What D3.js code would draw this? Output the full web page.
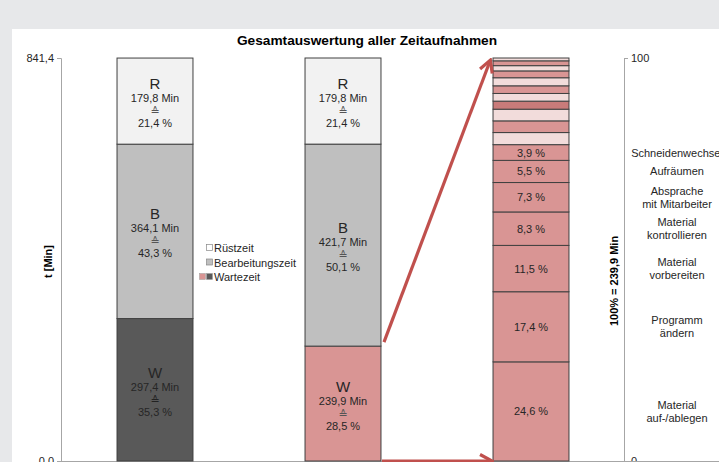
<!DOCTYPE html>
<html lang="de">
<head>
  <meta charset="UTF-8">
  <script src="https://d3js.org/d3.v7.min.js"></script>
  <title>Gesamtauswertung</title>
  <style>
    body { margin: 0; background: #e7e8ea; }
    svg { display: block; font-family: "Liberation Sans", Arial, sans-serif; }
  </style>
</head>
<body>
  <script>
    // ---- data ----
    const columns = ["ist", "soll", "warte"];
    const partKeys = ["W", "B", "R"];           // bottom -> top
    const istMin = [297.4, 364.1, 179.8];
    const istPct = [35.3, 43.3, 21.4];
    const sollMin = [239.9, 421.7, 179.8];
    const sollPct = [28.5, 50.1, 21.4];
    const totalMin = 841.4;

    const warteLabels = ["Material\nauf-/ablegen", "Programm\nändern", "Material\nvorbereiten",
      "Material\nkontrollieren", "Absprache\nmit Mitarbeiter", "Aufräumen", "Schneidenwechsel",
      "", "", "", "", "", "", "", "", "", "", ""];
    const wartePct = [24.6, 17.4, 11.5, 8.3, 7.3, 5.5, 3.9,
      3.0, 2.9, 2.9, 2.0, 1.9, 1.9, 2.0, 1.7, 1.3, 1.2, 0.7];
    const legendLabels = ["Rüstzeit", "Bearbeitungszeit", "Wartezeit"];

    // ---- styles ----
    const colR = "#f2f2f2", colB = "#bfbfbf", colWdark = "#595959", colWpink = "#d99594";
    const warteColors = [colWpink, colWpink, colWpink, colWpink, colWpink, colWpink, colWpink,
      "#f2dcdb", colWpink, "#f2dcdb", "#c97b7a", "#f2dcdb", colWpink, "#f2dcdb", colWpink,
      "#f2dcdb", colWpink, "#f2dcdb"];
    const txt = "#262626";
    const fmt = v => d3.format(".1f")(v).replace(".", ",");

    const W = 719, H = 462;
    const svg = d3.select("body").append("svg").attr("width", W).attr("height", H);
    svg.append("rect").attr("x", 12).attr("y", 29).attr("width", W - 12).attr("height", H - 29).attr("fill", "#fff");

    // ---- scales ----
    const x = d3.scaleBand().domain(columns).range([61, 625]).paddingInner(0.596).paddingOuter(0.298);
    const y = d3.scaleLinear().domain([0, totalMin]).range([461, 58]);
    const yP = d3.scaleLinear().domain([0, 100]).range([461, 58]);

    // title
    svg.append("text").attr("x", 367).attr("y", 45).attr("text-anchor", "middle")
      .attr("font-size", 13.7).attr("font-weight", "bold").attr("fill", "#000")
      .text("Gesamtauswertung aller Zeitaufnahmen");

    // axes
    const axL = svg.append("g").attr("transform", "translate(61,0)")
      .call(d3.axisLeft(y).tickValues([0, totalMin]).tickSize(4).tickFormat(fmt));
    const axR = svg.append("g").attr("transform", "translate(624,0)")
      .call(d3.axisRight(yP).tickValues([0, 100]).tickSize(4));
    [axL, axR].forEach(a => {
      a.selectAll("path,line").attr("stroke", "#a6a6a6");
      a.selectAll("text").attr("font-size", 11).attr("fill", txt).attr("font-family", "Liberation Sans, Arial");
    });
    svg.append("line").attr("x1", 57).attr("x2", W).attr("y1", y(0) + 0.5).attr("y2", y(0) + 0.5)
      .attr("stroke", "#a6a6a6");

    svg.append("text").attr("transform", `translate(52,${(y(0) + y(totalMin)) / 2 + 2}) rotate(-90)`)
      .attr("text-anchor", "middle").attr("font-size", 11).attr("font-weight", "bold").text("t [Min]");
    svg.append("text").attr("transform", `translate(618,281) rotate(-90)`)
      .attr("text-anchor", "middle").attr("font-size", 11).attr("font-weight", "bold").text("100% = 239,9 Min");

    // stacked bars with labels
    function stackBar(col, mins, pcts, wColor) {
      let base = 0;
      mins.forEach((m, i) => {
        const y0 = y(base), y1 = y(base + m);
        const fill = i === 0 ? wColor : (i === 1 ? colB : colR);
        svg.append("rect").attr("x", x(col)).attr("y", y1).attr("width", x.bandwidth())
          .attr("height", y0 - y1).attr("fill", fill).attr("stroke", "#404040").attr("stroke-width", 1);
        const c = (y0 + y1) / 2;
        const cx = x(col) + x.bandwidth() / 2;
        const g = svg.append("g").attr("text-anchor", "middle").attr("fill", txt);
        g.append("text").attr("x", cx).attr("y", c - 12).attr("font-size", 15).text(partKeys[i]);
        g.append("text").attr("x", cx).attr("y", c + 1).attr("font-size", 11).text(fmt(m) + " Min");
        g.append("text").attr("x", cx).attr("y", c + 14).attr("font-size", 11)
          .attr("font-family", "DejaVu Sans").attr("fill", i === 0 && col === "ist" ? "#222" : "#555").text("≙");
        g.append("text").attr("x", cx).attr("y", c + 26).attr("font-size", 11).text(fmt(pcts[i]) + " %");
        base += m;
      });
    }
    stackBar("ist", istMin, istPct, colWdark);
    stackBar("soll", sollMin, sollPct, colWpink);

    // breakdown of Wartezeit
    let acc = 0;
    wartePct.forEach((p, i) => {
      const y0 = yP(acc), y1 = yP(acc + p);
      svg.append("rect").attr("x", x("warte")).attr("y", y1).attr("width", x.bandwidth())
        .attr("height", y0 - y1).attr("fill", warteColors[i]).attr("stroke", "#404040").attr("stroke-width", 1);
      const c = (y0 + y1) / 2;
      if (warteLabels[i]) {
        svg.append("text").attr("x", x("warte") + x.bandwidth() / 2).attr("y", c + 4)
          .attr("text-anchor", "middle").attr("font-size", 11).attr("fill", txt).text(fmt(p) + " %");
        const lines = warteLabels[i].split("\n");
        const t = svg.append("text").attr("text-anchor", "middle").attr("font-size", 11).attr("fill", txt);
        lines.forEach((l, k) => {
          t.append("tspan").attr("x", 677).attr("y", c + 4 + (k - (lines.length - 1) / 2) * 13).text(l);
        });
      }
      acc += p;
    });

    // legend
    const leg = svg.append("g").attr("font-size", 11).attr("fill", txt);
    legendLabels.forEach((l, i) => {
      const ly = 248 + i * 14.5;
      if (i === 2) {
        leg.append("rect").attr("x", 199.5).attr("y", ly - 3.5).attr("width", 6).attr("height", 6)
          .attr("fill", colWpink).attr("stroke", "#999").attr("stroke-width", 0.5);
        leg.append("rect").attr("x", 206.5).attr("y", ly - 3.5).attr("width", 6).attr("height", 6)
          .attr("fill", colWdark).attr("stroke", "#999").attr("stroke-width", 0.5);
      } else {
        leg.append("rect").attr("x", 206.5).attr("y", ly - 3.5).attr("width", 6).attr("height", 6)
          .attr("fill", i === 0 ? "#fff" : colB).attr("stroke", "#888").attr("stroke-width", 0.7);
      }
      leg.append("text").attr("x", 214).attr("y", ly + 4).text(l);
    });

    // arrows
    const defs = svg.append("defs");
    defs.append("marker").attr("id", "ah").attr("viewBox", "0 0 16 16").attr("refX", 13).attr("refY", 8)
      .attr("markerWidth", 16).attr("markerHeight", 16).attr("markerUnits", "userSpaceOnUse").attr("orient", "auto")
      .append("path").attr("d", "M2,1.5 L14,8 L2,14.5").attr("fill", "none")
      .attr("stroke", "#c0504d").attr("stroke-width", 3.2).attr("stroke-linejoin", "miter");
    const ax0 = x("soll") + x.bandwidth() + 3;
    const ax1 = x("warte") - 3;
    svg.append("line").attr("x1", ax0).attr("y1", y(sollMin[0]) - 4).attr("x2", ax1).attr("y2", yP(100) + 3)
      .attr("stroke", "#c0504d").attr("stroke-width", 3.2).attr("marker-end", "url(#ah)");
    svg.append("line").attr("x1", ax0 - 2).attr("y1", y(0)).attr("x2", ax1 + 1).attr("y2", y(0))
      .attr("stroke", "#c0504d").attr("stroke-width", 3.2).attr("marker-end", "url(#ah)");
  </script>
</body>
</html>
